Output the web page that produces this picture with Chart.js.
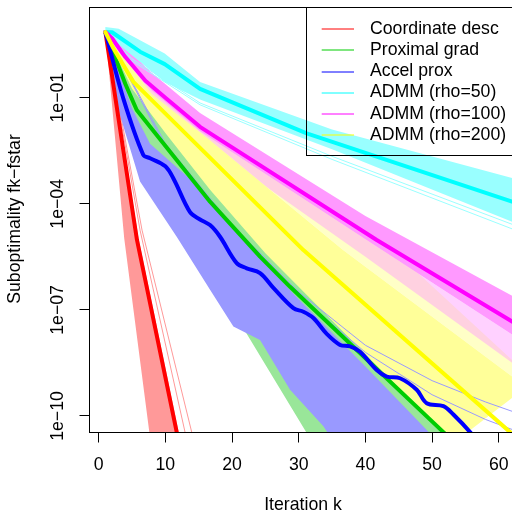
<!DOCTYPE html>
<html>
<head>
<meta charset="utf-8">
<script src="https://cdn.jsdelivr.net/npm/chart.js@4.4.1/dist/chart.umd.min.js"></script>
<style>
  html, body { margin: 0; padding: 0; background: #fff; overflow: hidden; }
  #wrap { width: 512px; height: 514px; overflow: hidden; }
</style>
</head>
<body>
<div id="wrap"><canvas id="myChart" width="545" height="514"></canvas></div>
<script>
// Values (x = iteration k, y = f(k) - fstar)

const legendLabels = ['Coordinate desc', 'Proximal grad', 'Accel prox', 'ADMM (rho=50)', 'ADMM (rho=100)', 'ADMM (rho=200)'];
const xTicks = [0, 10, 20, 30, 40, 50, 60];
const yTicks = [1e-1, 1e-4, 1e-7, 1e-10];
const yTickLabels = ['1e\u221201', '1e\u221204', '1e\u221207', '1e\u221210'];

// Coordinate descent
const redMeanK = [1, 5.74, 11.7, 13];
const redMean  = [7.2, 9.5e-6, 3.5e-11, 2.2e-12];
const redLowK  = [1, 3.83, 7.59, 8.3];
const redLow   = [7.2, 1.05e-5, 3.5e-11, 3.2e-12];
const redHighK = [1, 6.0, 12.0, 13.2];
const redHigh  = [7.2, 1.0e-5, 3.5e-11, 2e-12];
const redOut1K = [1, 6.5, 13.95, 15];
const redOut1  = [7.2, 1.8e-5, 3.5e-11, 5.4e-12];
const redOut2K = [1, 6.2, 12.95, 14];
const redOut2  = [7.2, 1.8e-5, 3.5e-11, 5e-12];

// Proximal gradient
const greenMeanK = [1, 4, 5.7, 16.7, 24.2, 28.7, 51.7, 53.5];
const greenMean  = [7.2, 0.245, 0.045, 1.15e-4, 3.2e-6, 4.5e-7, 3.5e-11, 1.66e-11];
const greenLowK  = [1, 5, 10, 19.7, 31.2, 32.5];
const greenLow   = [7.2, 0.02, 1.66e-4, 1.26e-7, 3.3e-11, 1.26e-11];
const greenHighK = [1, 5, 10, 16.7, 25, 35, 50, 56];
const greenHigh  = [7.2, 0.32, 0.018, 4e-4, 7.9e-6, 1e-7, 2e-10, 1.6e-11];

// Accelerated proximal gradient
const blueMeanK = [1, 3.69, 6.69, 7.7, 10, 11.3, 13.7, 15.2, 16.7, 18.2, 20.7, 22.2, 24.2, 26.2, 29.2,
                   30.7, 32.2, 34.2, 36.2, 37.7, 39.2, 41.7, 43.2, 45.2, 47.7, 49.2, 51.7, 53.2, 55.7, 57];
const blueMean  = [7.2, 0.095, 2.4e-3, 1.95e-3, 1.15e-3, 4.8e-4, 5.8e-5, 3.6e-5, 2.5e-5, 1.17e-5, 2.1e-6, 1.5e-6, 1.1e-6, 4.2e-7, 1.12e-7,
                   8.9e-8, 5.9e-8, 2.1e-8, 1.02e-8, 9.3e-9, 6.6e-9, 2.0e-9, 1.3e-9, 1.17e-9, 5.5e-10, 2.3e-10, 1.9e-10, 1.1e-10, 3.5e-11, 1.6e-11];
const blueLowK  = [1, 3.2, 6.2, 11.7, 16.7, 20.2, 24.2, 28.7, 33.7, 35.5];
const blueLow   = [7.2, 0.032, 4.3e-4, 1.17e-5, 3.7e-7, 3.4e-8, 1.4e-8, 5.5e-10, 5.1e-11, 1.6e-11];
const blueHighK = [1, 5, 7.7, 13.7, 20, 30, 40, 49.5, 51];
const blueHigh  = [7.2, 0.05, 5e-3, 5e-4, 2e-5, 2e-7, 2.5e-9, 3.5e-11, 1.6e-11];
const blueOutK  = [1, 10, 20, 30, 40, 50, 58, 64];
const blueOut1  = [7.2, 5e-3, 2.5e-5, 3.2e-7, 1e-8, 1e-9, 2.5e-10, 1e-10];
const blueOut2  = [7.2, 4e-3, 2e-5, 2.5e-7, 6.3e-9, 4e-10, 8e-11, 3e-11];

// ADMM rho=50
const cyanMeanK = [1, 2, 6.2, 9.9, 15.2, 31.2, 62, 64];
const cyanMean  = [7.2, 7.1, 2.0, 0.89, 0.178, 9.8e-3, 1.15e-4, 8.5e-5];
const cyanBandK = [1, 3, 9.9, 15.2, 35, 62, 64];
const cyanHigh  = [10, 8.9, 1.78, 0.28, 0.0126, 5.4e-4, 4.3e-4];
const cyanLow   = [7.2, 3.2, 0.28, 0.089, 3.5e-3, 3.1e-5, 2.2e-5];
const cyanOutK  = [1, 5, 15.2, 35, 64];
const cyanOut1  = [7.2, 1.26, 0.071, 2.2e-3, 1.9e-5];
const cyanOut2  = [7.2, 1.1, 0.063, 1.8e-3, 1.4e-5];

// ADMM rho=100
const magentaMeanK = [1, 2, 4, 7, 10, 15.2, 41.7, 62, 64];
const magentaMean  = [7.2, 4.8, 1.41, 0.3, 0.1, 0.015, 9.5e-6, 4.7e-8, 2.75e-8];
const magentaBandK = [1, 3, 8, 15.2, 40, 62, 64];
const magentaHigh  = [7.2, 4, 0.5, 0.037, 4.5e-5, 2.5e-7, 1.6e-7];
const magentaLow   = [7.2, 2.0, 0.158, 0.0112, 1e-5, 2e-8, 1.1e-8];
const magentaSparse = [7.2, 1.6, 0.1, 6.3e-3, 3.2e-6, 3.2e-9, 1.6e-9];

// ADMM rho=200
const yellowMeanK = [1, 2.2, 5.2, 30.7, 61.7, 64];
const yellowMean  = [7.2, 2.5, 0.28, 4.9e-6, 3.5e-11, 1.45e-11];
const yellowLowK  = [1, 5, 10, 16.7, 25, 35, 50, 53];
const yellowLow   = [7.2, 0.18, 1e-2, 2.5e-4, 4e-6, 5e-8, 7e-11, 1.6e-11];
const yellowHighK = [1, 3, 8, 16.7, 36.6, 62, 64];
const yellowHigh  = [7.2, 2.0, 0.126, 6.3e-3, 5e-6, 1.3e-9, 6.3e-10];
const yellowSparseK = [1, 4, 10, 20, 44.1, 62, 64];
const yellowSparse  = [7.2, 1.6, 0.1, 3.2e-3, 5e-6, 3.8e-9, 2e-9];

const darkColors  = ['#FF0000', '#00CD00', '#0000FF', '#00FFFF', '#FF00FF', '#FFFF00'];
const lightColors = ['#FF9999', '#99E699', '#9999FF', '#99FFFF', '#FF99FF', '#FFFF99'];

const FONT = '17.7px "Liberation Sans", Arial, Helvetica, sans-serif';

function pts(ks, ys) {
  return ks.map((k, i) => ({x: k, y: ys[i]}));
}

// closed polygon: upper edge forward, lower edge back
function band(hiK, hi, loK, lo) {
  return pts(hiK, hi).concat(pts(loK, lo).reverse());
}

function area(data, color) {
  return {data: data, fill: 'shape', backgroundColor: color, borderColor: 'rgba(0,0,0,0)',
          borderWidth: 1, pointRadius: 0, tension: 0};
}

function line(data, color, width) {
  return {data: data, fill: false, borderColor: color, borderWidth: width, pointRadius: 0,
          tension: 0, borderCapStyle: 'round', borderJoinStyle: 'round'};
}

// painter's order: first in list is drawn first
const layers = [
  area(band(redHighK, redHigh, redLowK, redLow), lightColors[0]),
  line(pts(redOut1K, redOut1), lightColors[0], 1),
  line(pts(redOut2K, redOut2), lightColors[0], 1),
  area(band(greenHighK, greenHigh, greenLowK, greenLow), lightColors[1]),
  area(band(yellowSparseK, yellowSparse, yellowHighK, yellowHigh), 'rgba(255,255,153,0.55)'),
  area(band(magentaBandK, magentaLow, magentaBandK, magentaSparse), 'rgba(255,153,255,0.45)'),
  area(band(yellowHighK, yellowHigh, yellowLowK, yellowLow), lightColors[5]),
  area(band(magentaBandK, magentaHigh, magentaBandK, magentaLow), lightColors[4]),
  area(band(cyanBandK, cyanHigh, cyanBandK, cyanLow), lightColors[3]),
  line(pts(cyanOutK, cyanOut1), lightColors[3], 1),
  line(pts(cyanOutK, cyanOut2), lightColors[3], 1),
  area(band(blueHighK, blueHigh, blueLowK, blueLow), lightColors[2]),
  line(pts(blueOutK, blueOut1), lightColors[2], 1),
  line(pts(blueOutK, blueOut2), lightColors[2], 1),
  line(pts(redMeanK, redMean), darkColors[0], 4),
  line(pts(greenMeanK, greenMean), darkColors[1], 4),
  Object.assign(line(pts(blueMeanK, blueMean), darkColors[2], 4), {tension: 0.35}),
  line(pts(cyanMeanK, cyanMean), darkColors[3], 4),
  line(pts(magentaMeanK, magentaMean), darkColors[4], 4),
  line(pts(yellowMeanK, yellowMean), darkColors[5], 4)
];
layers.forEach((d, i) => { d.order = layers.length - i; });

function crisp(v) {
  return Math.floor(v) + 0.5;
}

const rAxes = {
  id: 'rAxes',
  afterDraw(chart) {
    const ctx = chart.ctx;
    const a = chart.chartArea;
    const xs = chart.scales.x;
    const ys = chart.scales.y;
    ctx.save();
    ctx.strokeStyle = '#000';
    ctx.fillStyle = '#000';
    ctx.lineWidth = 1;
    ctx.strokeRect(crisp(a.left), crisp(a.top), crisp(a.right) - crisp(a.left), crisp(a.bottom) - crisp(a.top));

    ctx.font = FONT;
    ctx.textAlign = 'center';
    ctx.textBaseline = 'middle';

    // x axis
    xTicks.forEach(v => {
      const px = crisp(xs.getPixelForValue(v));
      ctx.beginPath();
      ctx.moveTo(px, crisp(a.bottom));
      ctx.lineTo(px, crisp(a.bottom) + 10);
      ctx.stroke();
      ctx.fillText(String(v), xs.getPixelForValue(v), 465.5);
    });
    ctx.fillText('Iteration k', 303, 505);

    // y axis, labels turned like R's las=0
    yTicks.forEach((v, i) => {
      const py = crisp(ys.getPixelForValue(v));
      ctx.beginPath();
      ctx.moveTo(crisp(a.left) - 10, py);
      ctx.lineTo(crisp(a.left), py);
      ctx.stroke();
      ctx.save();
      ctx.translate(58.3, ys.getPixelForValue(v));
      ctx.rotate(-Math.PI / 2);
      ctx.fillText(yTickLabels[i], 0, 0);
      ctx.restore();
    });
    ctx.save();
    ctx.translate(15, 219);
    ctx.rotate(-Math.PI / 2);
    ctx.fillText('Suboptimality fk\u2212fstar', 0, 0);
    ctx.restore();

    // legend, no background
    ctx.strokeRect(crisp(306), crisp(a.top), crisp(a.right) - crisp(306), crisp(155.7) - crisp(a.top));
    ctx.textAlign = 'left';
    legendLabels.forEach((lab, i) => {
      const y = 29.3 + i * 21.1;
      ctx.strokeStyle = darkColors[i];
      ctx.beginPath();
      ctx.moveTo(321.7, Math.round(y));
      ctx.lineTo(354, Math.round(y));
      ctx.stroke();
      ctx.fillText(lab, 370, y);
    });
    ctx.restore();
  }
};

const chart = new Chart(
  document.getElementById('myChart'),
  {
    type: 'line',
    data: {datasets: layers},
    options: {
      responsive: false,
      animation: false,
      events: [],
      layout: {padding: {left: 89.3, top: 7.3, right: 23.6, bottom: 81.3}},
      plugins: {legend: {display: false}, tooltip: {enabled: false}},
      scales: {
        x: {type: 'linear', display: false, min: -1.41, max: 63.4},
        y: {type: 'logarithmic', display: false, min: 3.37e-11, max: 36}
      }
    },
    plugins: [rAxes]
  }
);
</script>
</body>
</html>
